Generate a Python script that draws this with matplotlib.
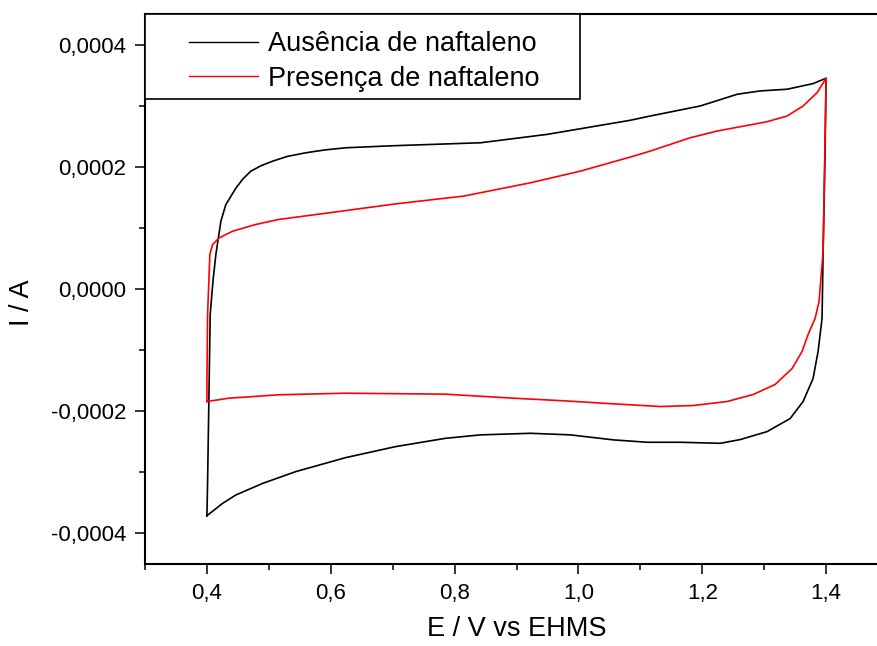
import matplotlib
matplotlib.use("Agg")
import matplotlib.pyplot as plt
from matplotlib.patches import Rectangle
from matplotlib.ticker import MultipleLocator, FuncFormatter

plt.rcParams['font.family'] = ['Liberation Sans', 'DejaVu Sans']

# Black curve: Ausência de naftaleno (E in V, I in 1e-4 A)
aus_E = [0.400, 0.4011, 0.4053, 0.4100, 0.4145, 0.4226, 0.4305, 0.4468, 0.4580, 0.4710,
         0.4880, 0.5065, 0.5300, 0.5597, 0.5900, 0.6242, 0.7000, 0.8419, 0.9500, 1.0839,
         1.1161, 1.1968, 1.2565, 1.2935, 1.3371, 1.3790, 1.4000, 1.3984, 1.3952, 1.3935,
         1.3871, 1.3790, 1.3629, 1.3419, 1.3048, 1.2613, 1.2290, 1.1645, 1.1113, 1.0565,
         0.9871, 0.9226, 0.8419, 0.7855, 0.7048, 0.6242, 0.5435, 0.4903, 0.4468, 0.4253,
         0.400]
aus_I = [-3.710, -3.152, -0.415, 0.150, 0.569, 1.110, 1.380, 1.651, 1.800, 1.929,
         2.020, 2.093, 2.170, 2.229, 2.275, 2.311, 2.344, 2.393, 2.531, 2.761,
         2.831, 2.995, 3.187, 3.241, 3.269, 3.361, 3.449, 2.257, 0.618, -0.480,
         -1.021, -1.464, -1.841, -2.120, -2.333, -2.464, -2.525, -2.508, -2.508, -2.469,
         -2.387, -2.361, -2.387, -2.443, -2.579, -2.759, -2.988, -3.180, -3.370, -3.508,
         -3.710]

# Red curve: Presença de naftaleno
pre_E = [0.400, 0.400, 0.4011, 0.4048, 0.4092, 0.4198, 0.4415, 0.4790, 0.5161, 0.5968,
         0.7048, 0.8145, 0.9226, 1.0032, 1.0839, 1.1161, 1.1806, 1.2242, 1.3048, 1.3371,
         1.3629, 1.3855, 1.4000, 1.3980, 1.3952, 1.3887, 1.3823, 1.3710, 1.3613, 1.3452,
         1.3177, 1.2823, 1.2403, 1.1855, 1.1323, 1.0565, 0.9758, 0.8952, 0.7855, 0.6242,
         0.5161, 0.4355, 0.400]
pre_I = [-1.841, -1.513, -0.415, 0.569, 0.728, 0.836, 0.946, 1.056, 1.138, 1.246,
         1.393, 1.520, 1.738, 1.929, 2.159, 2.257, 2.475, 2.585, 2.738, 2.831,
         2.995, 3.213, 3.449, 2.257, 0.618, -0.202, -0.480, -0.743, -1.021, -1.300,
         -1.562, -1.726, -1.841, -1.907, -1.923, -1.879, -1.829, -1.787, -1.721, -1.705,
         -1.731, -1.787, -1.841]

labels = ["Ausência de naftaleno", "Presença de naftaleno"]
x_label = "E / V vs EHMS"
y_label = "I / A"

fig = plt.figure(figsize=(8.77, 6.46), dpi=100)
ax = fig.add_axes([145/877, 1-564/646, (888-145)/877, (564-14)/646])

ax.plot(aus_E, [v*1e-4 for v in aus_I], color='black', lw=1.2, label=labels[0], zorder=3)
ax.plot(pre_E, [v*1e-4 for v in pre_I], color='red', lw=1.2, label=labels[1], zorder=4)

ax.set_xlim(0.3, 1.5)
ax.set_ylim(-0.00045, 0.00045)

ax.xaxis.set_major_locator(MultipleLocator(0.2))
ax.xaxis.set_minor_locator(MultipleLocator(0.1))
ax.yaxis.set_major_locator(MultipleLocator(0.0002))
ax.yaxis.set_minor_locator(MultipleLocator(0.0001))
ax.xaxis.set_major_formatter(FuncFormatter(lambda v, p: f"{v:.1f}".replace('.', ',')))
ax.yaxis.set_major_formatter(FuncFormatter(
    lambda v, p: ("0,0000" if abs(v) < 1e-9 else f"{v:.4f}".replace('.', ','))))

ax.tick_params(which='major', direction='out', length=7.5, width=1.1, labelsize=16, pad=6)
ax.tick_params(which='minor', direction='out', length=4, width=1.1)
for s in ['left', 'bottom', 'top', 'right']:
    ax.spines[s].set_linewidth(1.5)

ax.set_xlabel(x_label, fontsize=19.5)
ax.set_ylabel(y_label, fontsize=19.5)
ax.xaxis.set_label_coords(0.5, -0.095)
ax.yaxis.set_label_coords(-0.148, 0.475)

# legend frame
rect = Rectangle((0, 1 - (99.3-14)/550), (580-145)/743, (99.3-14)/550,
                 transform=ax.transAxes, facecolor='white', edgecolor='black',
                 lw=1.2, zorder=5)
ax.add_patch(rect)
leg = ax.legend(loc='center', bbox_to_anchor=((364-145)/743, 1 - (61.5-14)/550),
                frameon=False, fontsize=19.5, handlelength=2.55, handletextpad=0.35,
                labelspacing=0.3, borderpad=0)
leg.set_zorder(6)
for line in leg.get_lines():
    line.set_linewidth(1.0)

fig.savefig("out.png", dpi=100)
